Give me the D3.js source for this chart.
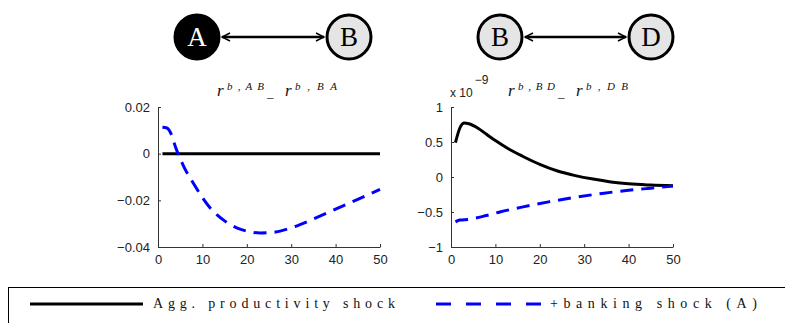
<!DOCTYPE html>
<html lang="en">
<head>
<meta charset="UTF-8">
<script src="https://d3js.org/d3.v7.min.js"></script>
<style>
body {margin: 0; background: white;}
svg {display: block;}
.tick text {font-family: "Liberation Sans", Arial, sans-serif; font-size: 13px; fill: #222;}
.domain, .tick line {stroke: #333;}
</style>
</head>
<body>
<svg width="785" height="323"></svg>
<script>
// left panel: r^{b,AB} - r^{b,BA}
const xLeft = [1, 2, 3, 4, 5, 6, 8, 10, 12, 15, 18, 20, 23, 26, 30, 35, 40, 45, 50];
const leftAgg = [0, 0, 0, 0, 0, 0, 0, 0, 0, 0, 0, 0, 0, 0, 0, 0, 0, 0, 0];
const leftBank = [0.0113, 0.011, 0.0083, 0.0025, -0.0022, -0.0063, -0.0128, -0.0188, -0.0238, -0.0288, -0.0320, -0.0332, -0.0340, -0.0337, -0.0318, -0.0280, -0.0238, -0.0196, -0.0153];

// right panel: r^{b,BD} - r^{b,DB}  (x 10^-9)
const xRightAgg = [1, 2, 3, 4, 6, 8, 10, 13, 16, 20, 24, 28, 32, 36, 40, 45, 50];
const rightAgg = [0.49, 0.70, 0.77, 0.76, 0.70, 0.61, 0.52, 0.40, 0.30, 0.18, 0.085, 0.02, -0.03, -0.07, -0.098, -0.115, -0.125];
const xRightBank = [1, 2, 4, 8, 11, 16, 22, 28, 34, 40, 45, 50];
const rightBank = [-0.64, -0.615, -0.605, -0.55, -0.50, -0.43, -0.355, -0.29, -0.235, -0.19, -0.16, -0.13];

const xTicks = [0, 10, 20, 30, 40, 50];
const leftTicks = [-0.04, -0.02, 0, 0.02];
const rightTicks = [-1, -0.5, 0, 0.5, 1];
const legendLabels = ["Agg. productivity shock", "+banking shock (A)"];

const svg = d3.select("svg");
const fmt = d => d3.format("")(d).replace("-", "\u2212");
const serif = "'Liberation Serif', 'DejaVu Serif', serif";

function panel(x0, yDomain, yTicks, series) {
    const xs = d3.scaleLinear().domain([0, 50]).range([x0, x0 + 222]);
    const ys = d3.scaleLinear().domain(yDomain).range([247, 107]);

    svg.append("g")
        .attr("transform", "translate(0,247)")
        .call(d3.axisBottom(xs).tickValues(xTicks).tickSize(-3).tickPadding(6).tickSizeOuter(0))
        .selectAll("text").attr("dy", "0.85em");
    svg.append("g")
        .attr("transform", "translate(" + x0 + ",0)")
        .call(d3.axisLeft(ys).tickValues(yTicks).tickSize(-3).tickPadding(8).tickSizeOuter(0).tickFormat(fmt));

    const line = d3.line()
        .x(d => xs(d[0]))
        .y(d => ys(d[1]))
        .curve(d3.curveMonotoneX);

    series.forEach(s => {
        svg.append("path")
            .datum(d3.zip(s.x, s.y))
            .attr("d", line)
            .attr("fill", "none")
            .attr("stroke", s.color)
            .attr("stroke-width", 3)
            .attr("stroke-dasharray", s.dash);
    });
}

panel(158, [-0.04, 0.02], leftTicks, [
    {x: xLeft, y: leftAgg, color: "black", dash: null},
    {x: xLeft, y: leftBank, color: "blue", dash: "13,8"}
]);
panel(451, [-1, 1], rightTicks, [
    {x: xRightAgg, y: rightAgg, color: "black", dash: null},
    {x: xRightBank, y: rightBank, color: "blue", dash: "13,8"}
]);

// titles
function title(x, a, b) {
    const g = svg.append("g")
        .style("font-family", serif)
        .style("fill", "#111")
        .style("font-style", "italic");
    g.append("text").attr("x", x).attr("y", 96).style("font-size", "17px").text("r");
    g.append("text").attr("x", x + 10).attr("y", 90).style("font-size", "11px")
        .attr("textLength", 37).attr("lengthAdjust", "spacing").text("b , " + a);
    g.append("text").attr("x", x + 50).attr("y", 97).style("font-size", "13px").style("font-style", "normal").text("_");
    g.append("text").attr("x", x + 68).attr("y", 96).style("font-size", "17px").text("r");
    g.append("text").attr("x", x + 78).attr("y", 90).style("font-size", "11px")
        .attr("textLength", 42).attr("lengthAdjust", "spacing").text("b , " + b);
}
title(217, "A B", "B A");
title(508, "B D", "D B");

const ex = svg.append("text").attr("x", 450).attr("y", 97)
    .style("font-family", "'Liberation Sans', Arial, sans-serif").style("font-size", "12px").style("fill", "#222");
ex.append("tspan").text("x 10");
ex.append("tspan").text("\u22129").attr("dy", -13).attr("dx", 2);

// network diagrams
svg.append("defs").append("marker")
    .attr("id", "head")
    .attr("viewBox", "0 0 10 10")
    .attr("refX", 9).attr("refY", 5)
    .attr("markerWidth", 4).attr("markerHeight", 4)
    .attr("markerUnits", "strokeWidth")
    .attr("orient", "auto-start-reverse")
    .append("path")
    .attr("d", "M1,1 L9,5 L1,9")
    .attr("fill", "none").attr("stroke", "black").attr("stroke-width", 1.5);

function link(a, b) {
    svg.append("line")
        .attr("x1", a.x + 25).attr("y1", 37).attr("x2", b.x - 25).attr("y2", 37)
        .attr("stroke", "black").attr("stroke-width", 2.5)
        .attr("marker-start", "url(#head)").attr("marker-end", "url(#head)");
    [a, b].forEach(n => {
        svg.append("circle").attr("cx", n.x).attr("cy", 37).attr("r", 22)
            .attr("fill", n.dark ? "black" : "#e5e5e5")
            .attr("stroke", "black").attr("stroke-width", 3);
        svg.append("text").attr("x", n.x).attr("y", 46).attr("text-anchor", "middle")
            .style("font-family", serif)
            .style("font-size", "27px").style("fill", n.dark ? "white" : "black")
            .text(n.label);
    });
}
link({x: 197, label: "A", dark: true}, {x: 349, label: "B"});
link({x: 500, label: "B"}, {x: 651, label: "D"});

// legend
svg.append("rect").attr("x", 8.5).attr("y", 287.5).attr("width", 800).attr("height", 60)
    .attr("fill", "none").attr("stroke", "black").attr("stroke-width", 1);
svg.append("line").attr("x1", 30).attr("x2", 143).attr("y1", 304).attr("y2", 304)
    .attr("stroke", "black").attr("stroke-width", 3);
svg.append("line").attr("x1", 436).attr("x2", 548).attr("y1", 304).attr("y2", 304)
    .attr("stroke", "blue").attr("stroke-width", 3).attr("stroke-dasharray", "15,15");
[[153, 242], [550, 207]].forEach((p, i) => {
    svg.append("text").attr("x", p[0]).attr("y", 308)
        .attr("textLength", p[1]).attr("lengthAdjust", "spacing")
        .style("font-family", serif)
        .style("font-size", "14px").style("fill", "#111")
        .text(legendLabels[i]);
});
</script>
</body>
</html>
